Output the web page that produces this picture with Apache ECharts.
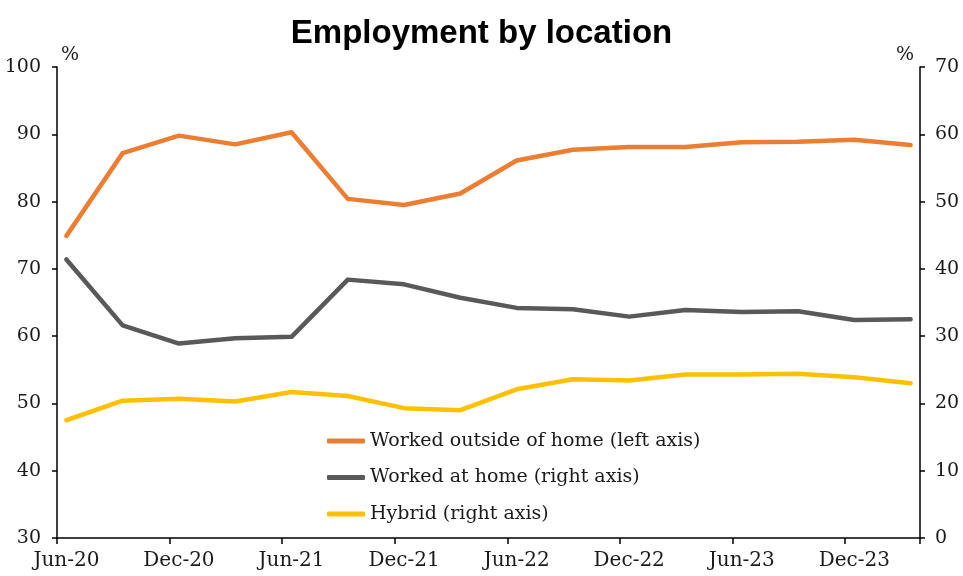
<!DOCTYPE html>
<html>
<head>
<meta charset="utf-8">
<script src="https://cdn.jsdelivr.net/npm/echarts@6/dist/echarts.min.js"></script>
<style>html,body{margin:0;padding:0;background:#fff}#c{width:963px;height:576px}</style>
</head>
<body>
<div id="c"></div>
<script>
const months = ['Jun-20','Jul-20','Aug-20','Sep-20','Oct-20','Nov-20','Dec-20','Jan-21','Feb-21','Mar-21','Apr-21','May-21',
  'Jun-21','Jul-21','Aug-21','Sep-21','Oct-21','Nov-21','Dec-21','Jan-22','Feb-22','Mar-22','Apr-22','May-22',
  'Jun-22','Jul-22','Aug-22','Sep-22','Oct-22','Nov-22','Dec-22','Jan-23','Feb-23','Mar-23','Apr-23','May-23',
  'Jun-23','Jul-23','Aug-23','Sep-23','Oct-23','Nov-23','Dec-23','Jan-24','Feb-24','Mar-24'];
const quarters = ['Jun-20','Sep-20','Dec-20','Mar-21','Jun-21','Sep-21','Dec-21','Mar-22',
  'Jun-22','Sep-22','Dec-22','Mar-23','Jun-23','Sep-23','Dec-23','Mar-24'];
const outsideHome = [74.9, 87.2, 89.8, 88.5, 90.3, 80.4, 79.5, 81.2, 86.1, 87.7, 88.1, 88.1, 88.8, 88.9, 89.2, 88.4];
const atHome      = [41.4, 31.6, 28.9, 29.7, 29.9, 38.4, 37.7, 35.7, 34.2, 34.0, 32.9, 33.9, 33.6, 33.7, 32.4, 32.5];
const hybrid      = [17.5, 20.4, 20.7, 20.3, 21.7, 21.1, 19.3, 19.0, 22.1, 23.6, 23.4, 24.3, 24.3, 24.4, 23.9, 23.0];
const seriesNames = ['Worked outside of home (left axis)', 'Worked at home (right axis)', 'Hybrid (right axis)'];

function toMonthly(vals) {
  const out = months.map(() => null);
  quarters.forEach((q, i) => { out[months.indexOf(q)] = vals[i]; });
  return out;
}

const serif = 'DejaVu Serif';
const chart = echarts.init(document.getElementById('c'), null, {renderer: 'canvas'});
const axisLine = {show: true, lineStyle: {color: '#000', width: 1.5}};
chart.setOption({
  animation: false,
  backgroundColor: '#fff',
  title: {
    text: 'Employment by location', left: 'center', top: 12,
    textStyle: {fontFamily: 'Liberation Sans', fontWeight: 'bold', fontSize: 33, color: '#000'}
  },
  grid: {left: 57, right: 43, top: 67, bottom: 38},
  legend: {
    orient: 'vertical', left: 322, top: 426, itemWidth: 38, itemHeight: 5, itemGap: 16.5,
    icon: 'roundRect',
    textStyle: {fontFamily: serif, fontSize: 19, color: '#1a1a1a', lineHeight: 20, padding: [0, 0, 0, 0]},
    data: seriesNames
  },
  xAxis: {
    type: 'category', data: months, boundaryGap: true,
    axisLine: axisLine,
    axisTick: {show: true, interval: 5, length: 6, lineStyle: {color: '#000', width: 1.5}},
    axisLabel: {interval: 5, fontFamily: serif, fontSize: 20, color: '#1a1a1a', margin: 13},
    splitLine: {show: false}
  },
  yAxis: [
    {
      type: 'value', min: 30, max: 100, interval: 10, position: 'left',
      name: '%', nameLocation: 'end', nameGap: 2,
      nameTextStyle: {fontFamily: serif, fontSize: 19, color: '#1a1a1a', align: 'left', padding: [0, 0, 0, 4]},
      axisLine: axisLine,
      axisTick: {show: true, length: 5, lineStyle: {color: '#000', width: 1.5}},
      axisLabel: {fontFamily: serif, fontSize: 19, color: '#1a1a1a', margin: 16},
      splitLine: {show: false}
    },
    {
      type: 'value', min: 0, max: 70, interval: 10, position: 'right',
      name: '%', nameLocation: 'end', nameGap: 2,
      nameTextStyle: {fontFamily: serif, fontSize: 19, color: '#1a1a1a', align: 'right', padding: [0, 6, 0, 0]},
      axisLine: axisLine,
      axisTick: {show: true, length: 5, lineStyle: {color: '#000', width: 1.5}},
      axisLabel: {fontFamily: serif, fontSize: 19, color: '#1a1a1a', margin: 15},
      splitLine: {show: false}
    }
  ],
  series: [
    {name: seriesNames[0], type: 'line', yAxisIndex: 0, data: toMonthly(outsideHome), connectNulls: true,
     showSymbol: false, color: '#ED7D31', lineStyle: {width: 4.5, cap: 'round', join: 'round'}},
    {name: seriesNames[1], type: 'line', yAxisIndex: 1, data: toMonthly(atHome), connectNulls: true,
     showSymbol: false, color: '#595959', lineStyle: {width: 4.5, cap: 'round', join: 'round'}},
    {name: seriesNames[2], type: 'line', yAxisIndex: 1, data: toMonthly(hybrid), connectNulls: true,
     showSymbol: false, color: '#FFC000', lineStyle: {width: 4.5, cap: 'round', join: 'round'}}
  ]
});
</script>
</body>
</html>
